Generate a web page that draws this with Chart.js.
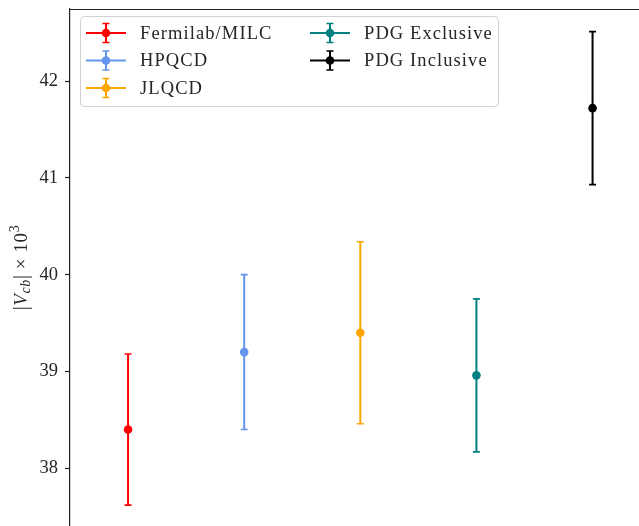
<!DOCTYPE html>
<html>
<head>
<meta charset="utf-8">
<script src="https://cdn.jsdelivr.net/npm/chart.js@4.4.1/dist/chart.umd.min.js"></script>
<style>
  html, body { margin: 0; padding: 0; background: #ffffff; overflow: hidden; }
  #wrap { width: 639px; height: 526px; position: relative; }
</style>
</head>
<body>
<div id="wrap"><canvas id="c"></canvas></div>
<script>
// ---- data ----
const categories = ['Fermilab/MILC', 'HPQCD', 'JLQCD', 'PDG Exclusive', 'PDG Inclusive'];
const vcbValues  = [38.40, 39.20, 39.40, 38.96, 41.72];
const vcbErrors  = [0.78, 0.80, 0.94, 0.79, 0.79];
const seriesColors = ['#ff0000', '#6495ed', '#ffa500', '#008080', '#000000'];
const yTickValues = [38, 39, 40, 41, 42];

const FONT = '"Liberation Serif", "Times New Roman", serif';
const TEXT_COLOR = '#262626';

const datasets = categories.map((name, i) => ({
  label: name,
  data: [{ x: i, y: vcbValues[i] }],
  errors: [vcbErrors[i]],
  backgroundColor: seriesColors[i],
  borderColor: seriesColors[i],
  pointRadius: 4.3,
  pointBorderWidth: 0,
  showLine: false
}));

const errorBarPlugin = {
  id: 'errorBars',
  beforeDatasetsDraw(chart) {
    const ctx = chart.ctx;
    const yScale = chart.scales.y;
    chart.data.datasets.forEach((ds, di) => {
      const meta = chart.getDatasetMeta(di);
      meta.data.forEach((pt, j) => {
        const v = ds.data[j].y, e = ds.errors[j];
        const x = pt.x;
        const yTop = yScale.getPixelForValue(v + e);
        const yBot = yScale.getPixelForValue(v - e);
        ctx.save();
        ctx.strokeStyle = ds.borderColor;
        ctx.lineWidth = 2;
        ctx.beginPath();
        ctx.moveTo(x, yTop); ctx.lineTo(x, yBot);
        ctx.stroke();
        ctx.lineWidth = 1.6;
        ctx.beginPath();
        ctx.moveTo(x - 3.5, yTop); ctx.lineTo(x + 3.5, yTop);
        ctx.moveTo(x - 3.5, yBot); ctx.lineTo(x + 3.5, yBot);
        ctx.stroke();
        ctx.restore();
      });
    });
  }
};

const framePlugin = {
  id: 'frameTop',
  afterDraw(chart) {
    const { ctx, chartArea } = chart;
    ctx.save();
    ctx.strokeStyle = '#222222';
    ctx.lineWidth = 1.2;
    ctx.beginPath();
    ctx.moveTo(chartArea.left, chartArea.top + 0.5);
    ctx.lineTo(chartArea.right, chartArea.top + 0.5);
    ctx.stroke();
    ctx.restore();
  }
};

const yTitlePlugin = {
  id: 'yTitle',
  afterDraw(chart) {
    const { ctx, chartArea } = chart;
    const cy = (chartArea.top + chartArea.bottom) / 2;
    const cx = 22;
    const segs = [
      { t: '|', f: '20px ' + FONT, dy: 0 },
      { t: 'V', f: 'italic 19px ' + FONT, dy: 0 },
      { t: 'cb', f: 'italic 14px ' + FONT, dy: 4 },
      { t: '|', f: '20px ' + FONT, dy: 0 },
      { t: ' \u00d7 10', f: '19px ' + FONT, dy: 0 },
      { t: '3', f: '14px ' + FONT, dy: -7 }
    ];
    ctx.save();
    ctx.letterSpacing = '0.6px';
    let total = 0;
    segs.forEach(s => { ctx.font = s.f; s.w = ctx.measureText(s.t).width; total += s.w; });
    ctx.translate(cx, cy);
    ctx.rotate(-Math.PI / 2);
    ctx.fillStyle = TEXT_COLOR;
    ctx.textBaseline = 'middle';
    ctx.textAlign = 'left';
    let x = -total / 2;
    segs.forEach(s => { ctx.font = s.f; ctx.fillText(s.t, x, s.dy); x += s.w; });
    ctx.restore();
  }
};

const legendPlugin = {
  id: 'errLegend',
  afterDraw(chart) {
    const { ctx, chartArea } = chart;
    const bx = chartArea.left + 10, by = chartArea.top + 7, bw = 418, bh = 90;
    ctx.save();
    ctx.fillStyle = 'rgba(255,255,255,0.8)';
    ctx.strokeStyle = '#d0d0d0';
    ctx.lineWidth = 1;
    ctx.beginPath();
    ctx.roundRect(bx + 0.5, by + 0.5, bw, bh, 4);
    ctx.fill();
    ctx.stroke();
    const rows = 3;
    chart.data.datasets.forEach((ds, i) => {
      const col = Math.floor(i / rows), row = i % rows;
      const hx = bx + 6 + col * 224;
      const y = by + 17 + row * 27.5;
      const c = ds.borderColor;
      ctx.strokeStyle = c;
      ctx.lineWidth = 2;
      ctx.beginPath();
      ctx.moveTo(hx, y); ctx.lineTo(hx + 40, y);
      ctx.moveTo(hx + 20, y - 9.5); ctx.lineTo(hx + 20, y + 9.5);
      ctx.stroke();
      ctx.lineWidth = 1.6;
      ctx.beginPath();
      ctx.moveTo(hx + 16.5, y - 9.5); ctx.lineTo(hx + 23.5, y - 9.5);
      ctx.moveTo(hx + 16.5, y + 9.5); ctx.lineTo(hx + 23.5, y + 9.5);
      ctx.stroke();
      ctx.fillStyle = c;
      ctx.beginPath();
      ctx.arc(hx + 20, y, 4.3, 0, Math.PI * 2);
      ctx.fill();
      ctx.fillStyle = TEXT_COLOR;
      ctx.font = '18.5px ' + FONT;
      ctx.letterSpacing = '1.1px';
      ctx.textBaseline = 'middle';
      ctx.textAlign = 'left';
      ctx.fillText(ds.label, hx + 54, y + 1);
    });
    ctx.restore();
  }
};

new Chart(document.getElementById('c'), {
  type: 'scatter',
  data: { datasets },
  options: {
    responsive: true,
    maintainAspectRatio: false,
    animation: false,
    layout: { autoPadding: false, padding: { top: 9, left: 0, right: 0, bottom: 0 } },
    plugins: { legend: { display: false }, tooltip: { enabled: false } },
    scales: {
      x: { type: 'linear', min: -0.5, max: 4.4, display: false },
      y: {
        type: 'linear',
        min: 37.404,
        max: 42.744,
        afterBuildTicks(scale) { scale.ticks = yTickValues.map(v => ({ value: v })); },
        afterFit(scale) { scale.width = 70; scale.paddingTop = 0; scale.paddingBottom = 0; },
        ticks: {
          padding: 7,
          color: TEXT_COLOR,
          font: { family: FONT, size: 18.5 },
          callback: v => String(v)
        },
        grid: { display: true, drawOnChartArea: false, drawTicks: true, tickLength: 5, color: '#222222', tickWidth: 1.2 },
        border: { display: true, color: '#222222', width: 1.2 }
      }
    }
  },
  plugins: [errorBarPlugin, framePlugin, yTitlePlugin, legendPlugin]
});
</script>
</body>
</html>
